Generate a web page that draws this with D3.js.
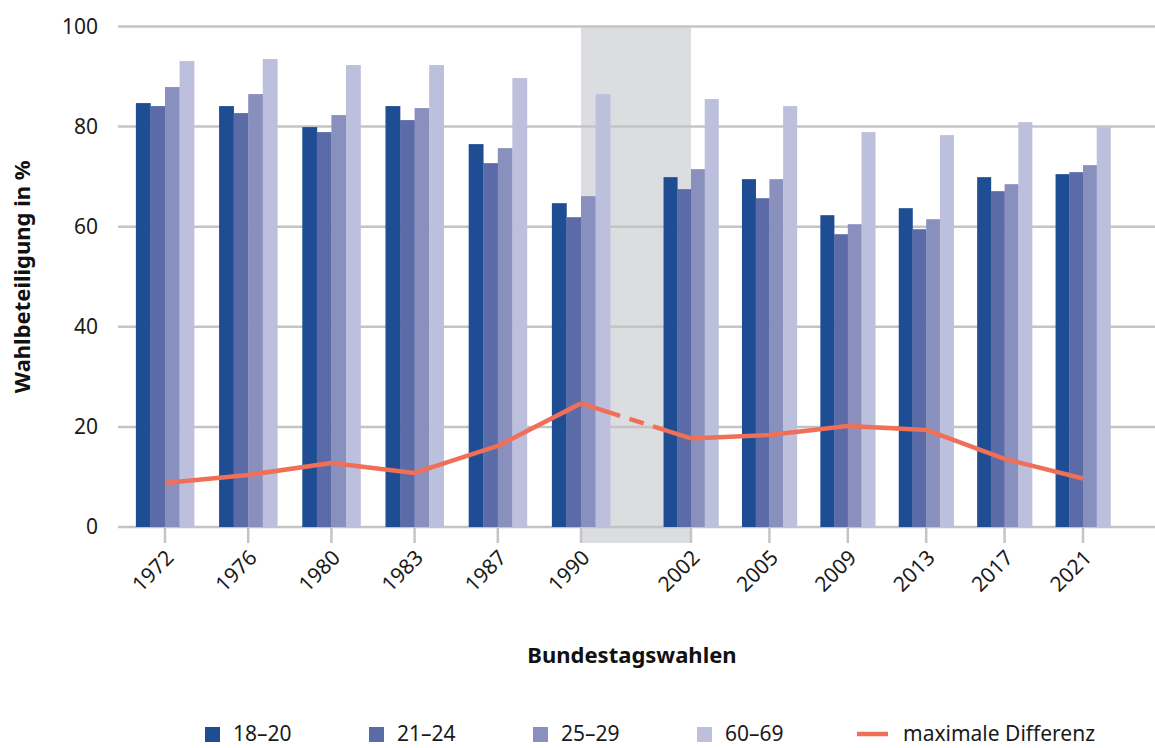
<!DOCTYPE html>
<html>
<head>
<meta charset="utf-8">
<script src="https://cdn.jsdelivr.net/npm/d3@7"></script>
<style>
  body { margin: 0; background: #fff; }
  svg { display: block; font-family: "Noto Sans", "Open Sans", sans-serif; }
  .grid line { stroke: #c4c4c4; stroke-width: 2.5; }
  .tick-label { font-size: 21px; fill: #1a1a1a; }
  .title { font-size: 22px; font-weight: bold; fill: #111; }
  .legend text { font-size: 21px; fill: #1a1a1a; }
</style>
</head>
<body>
<svg id="chart" width="1155" height="748"></svg>
<script>
// Bundestagswahlen
const years = ['1972', '1976', '1980', '1983', '1987', '1990', '2002', '2005', '2009', '2013', '2017', '2021'];
const ageGroups = ['18–20', '21–24', '25–29', '60–69'];
const turnout1820 = [84.7, 84.1, 79.9, 84.1, 76.5, 64.7, 69.9, 69.5, 62.3, 63.7, 69.9, 70.5];
const turnout2124 = [84.1, 82.7, 78.9, 81.3, 72.7, 61.9, 67.5, 65.7, 58.5, 59.5, 67.1, 70.9];
const turnout2529 = [87.9, 86.5, 82.3, 83.7, 75.7, 66.1, 71.5, 69.5, 60.5, 61.5, 68.5, 72.3];
const turnout6069 = [93.1, 93.5, 92.3, 92.3, 89.7, 86.5, 85.5, 84.1, 78.9, 78.3, 80.9, 79.9];
const maxDiff = [8.8, 10.4, 12.8, 10.8, 16.2, 24.7, 17.7, 18.4, 20.2, 19.4, 13.6, 9.7];
const yTicks = [0, 20, 40, 60, 80, 100];

const series = [turnout1820, turnout2124, turnout2529, turnout6069];
const colors = ['#1f4d94', '#5b6ba8', '#8990be', '#bdc0dc'];
const lineColor = '#ef6f57';

const svg = d3.select('#chart');
const left = 118, right = 1155;

// gap of the missing years between 1990 and 2002
const x = d3.scaleLinear().domain([0, 5, 6, 11]).range([165, 581, 691, 1083]);
const y = d3.scaleLinear().domain([0, 100]).range([527, 26.5]);

function groupWidth(i) {
    let step = i <= 5 ? (x(5) - x(0)) / 5 : (x(11) - x(6)) / 5;
    return step * 0.7;
}

// shaded gap
svg.append('rect')
    .attr('x', x(5)).attr('width', x(6) - x(5))
    .attr('y', y(100)).attr('height', y(0) + 16 - y(100))
    .attr('fill', '#dcdde0');

// grid
let grid = svg.append('g').attr('class', 'grid');
grid.selectAll('line.h').data(yTicks).enter().append('line')
    .attr('class', 'h')
    .attr('x1', left).attr('x2', right)
    .attr('y1', d => y(d)).attr('y2', d => y(d));
grid.selectAll('line.v').data(years).enter().append('line')
    .attr('class', 'v')
    .attr('x1', (d, i) => x(i)).attr('x2', (d, i) => x(i))
    .attr('y1', y(0)).attr('y2', y(0) + 16);

svg.selectAll('.ylabel').data(yTicks).enter().append('text')
    .attr('class', 'tick-label ylabel')
    .attr('x', 98).attr('y', d => y(d))
    .attr('dy', '0.35em')
    .attr('text-anchor', 'end')
    .text(d => d);

// bars
let groups = svg.selectAll('.group').data(years).enter().append('g').attr('class', 'group');
groups.each(function(year, i) {
    let gw = groupWidth(i);
    let bw = gw / 4;
    d3.select(this).selectAll('rect').data(series.map(s => s[i])).enter().append('rect')
        .attr('x', (v, k) => x(i) - gw / 2 + k * bw)
        .attr('width', bw + 0.3)
        .attr('y', v => y(v))
        .attr('height', v => y(0) - y(v))
        .attr('fill', (v, k) => colors[k]);
});

// x labels
svg.selectAll('.xlabel').data(years).enter().append('text')
    .attr('class', 'tick-label xlabel')
    .attr('text-anchor', 'end')
    .attr('transform', (d, i) => 'translate(' + (x(i) + 10) + ',' + (y(0) + 32) + ') rotate(-45)')
    .text(d => d);

// max difference line
let line = d3.line().x(d => x(d.i)).y(d => y(d.v));
let pts = maxDiff.map((v, i) => ({i: i, v: v}));
let lineParts = [pts.slice(0, 6), pts.slice(6)];
svg.selectAll('.diff').data(lineParts).enter().append('path')
    .attr('class', 'diff')
    .attr('d', line)
    .attr('fill', 'none')
    .attr('stroke', lineColor)
    .attr('stroke-width', 4.5)
    .attr('stroke-linejoin', 'round');
let gapLine = svg.append('path')
    .attr('d', line(pts.slice(5, 7)))
    .attr('fill', 'none')
    .attr('stroke', lineColor)
    .attr('stroke-width', 4.5);
let L = gapLine.node().getTotalLength();
gapLine.attr('stroke-dasharray', [L * 0.355, L * 0.085, L * 0.13, L * 0.085, L].join(','));

// axis titles
svg.append('text')
    .attr('class', 'title')
    .attr('text-anchor', 'middle')
    .attr('transform', 'translate(30,' + ((y(0) + y(100)) / 2) + ') rotate(-90)')
    .text('Wahlbeteiligung in %');
svg.append('text')
    .attr('class', 'title')
    .attr('text-anchor', 'middle')
    .attr('x', 632).attr('y', 663)
    .text('Bundestagswahlen');

// legend
let legend = svg.append('g').attr('class', 'legend').attr('transform', 'translate(205,734)');
let items = legend.selectAll('g').data(ageGroups).enter().append('g')
    .attr('transform', (d, i) => 'translate(' + (i * 164) + ',0)');
items.append('rect')
    .attr('x', 0).attr('y', -7).attr('width', 15).attr('height', 15)
    .attr('fill', (d, i) => colors[i]);
items.append('text')
    .attr('x', 28).attr('dy', '0.35em')
    .text(d => d);
let lineItem = legend.append('g').attr('transform', 'translate(652,0)');
lineItem.append('line')
    .attr('x1', 0).attr('x2', 31).attr('y1', 0).attr('y2', 0)
    .attr('stroke', lineColor).attr('stroke-width', 4.5);
lineItem.append('text')
    .attr('x', 46).attr('dy', '0.35em')
    .text('maximale Differenz');
</script>
</body>
</html>
